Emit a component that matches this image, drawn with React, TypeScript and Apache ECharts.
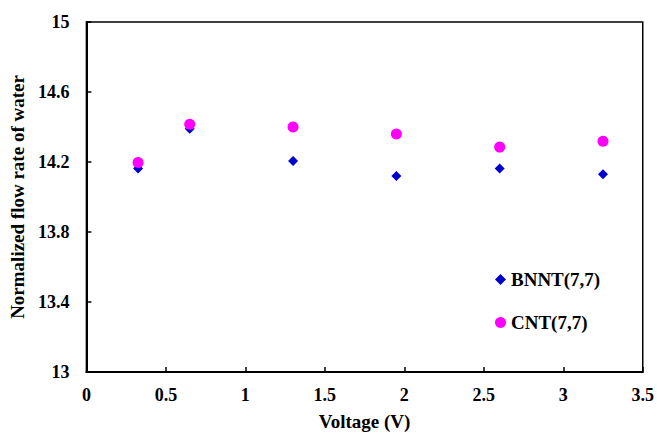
import React, { useEffect, useRef } from "react";
import * as echarts from "echarts";

const voltages = [0.325, 0.65, 1.3, 1.95, 2.6, 3.25];
const bnntValues = [14.163, 14.39, 14.206, 14.12, 14.163, 14.13];
const cntValues = [14.197, 14.416, 14.4, 14.36, 14.285, 14.318];
const yTicks = [13, 13.4, 13.8, 14.2, 14.6, 15];

const FONT = "Liberation Serif";

export default function App() {
  const ref = useRef<HTMLDivElement>(null);
  useEffect(() => {
    if (!ref.current) return;
    const chart = echarts.init(ref.current, undefined, { renderer: "svg" });
    const labelStyle = {
      fontFamily: FONT,
      fontWeight: "bold" as const,
      fontSize: 18,
      color: "#000",
    };
    chart.setOption({
      animation: false,
      backgroundColor: "#fff",
      grid: {
        left: 84,
        right: 12,
        top: 22,
        bottom: 58,
        show: true,
        borderColor: "#000",
        borderWidth: 1.5,
      },
      legend: {
        orient: "vertical",
        left: 490,
        top: 265,
        itemGap: 24,
        itemWidth: 11,
        itemHeight: 11,
        textStyle: { ...labelStyle, fontSize: 19 },
        data: [
          { name: "BNNT(7,7)", icon: "diamond" },
          { name: "CNT(7,7)", icon: "circle" },
        ],
      },
      xAxis: {
        type: "value",
        min: 0,
        max: 3.5,
        interval: 0.5,
        name: "Voltage (V)",
        nameLocation: "middle",
        nameGap: 40,
        nameTextStyle: { ...labelStyle, fontSize: 19 },
        axisLine: { show: true, lineStyle: { color: "#000", width: 2 } },
        axisTick: { show: true, inside: true, length: 5, lineStyle: { color: "#000", width: 1.5 } },
        axisLabel: { ...labelStyle, margin: 14, formatter: (v: number) => String(v) },
        splitLine: { show: false },
      },
      yAxis: {
        type: "value",
        min: 13,
        max: 15,
        name: "Normalized flow rate of water",
        nameLocation: "middle",
        nameGap: 55,
        nameTextStyle: { ...labelStyle, fontSize: 19 },
        axisLine: { show: true, lineStyle: { color: "#000", width: 2 } },
        axisTick: {
          show: true,
          inside: true,
          length: 5,
          customValues: yTicks,
          lineStyle: { color: "#000", width: 1.5 },
        },
        axisLabel: {
          ...labelStyle,
          margin: 17,
          customValues: yTicks,
          formatter: (v: number) => String(Math.round(v * 10) / 10),
        },
        splitLine: { show: false },
      },
      series: [
        {
          name: "BNNT(7,7)",
          type: "scatter",
          symbol: "diamond",
          symbolSize: 10,
          itemStyle: { color: "#0000CC", opacity: 1 },
          data: voltages.map((x, i) => [x, bnntValues[i]]),
        },
        {
          name: "CNT(7,7)",
          type: "scatter",
          symbol: "circle",
          symbolSize: 11,
          itemStyle: { color: "#FF00FF", opacity: 1 },
          data: voltages.map((x, i) => [x, cntValues[i]]),
        },
      ],
    });
    return () => chart.dispose();
  }, []);
  return (
    <div
      ref={ref}
      style={{ position: "fixed", left: 0, top: 0, width: 657, height: 436 }}
    />
  );
}
